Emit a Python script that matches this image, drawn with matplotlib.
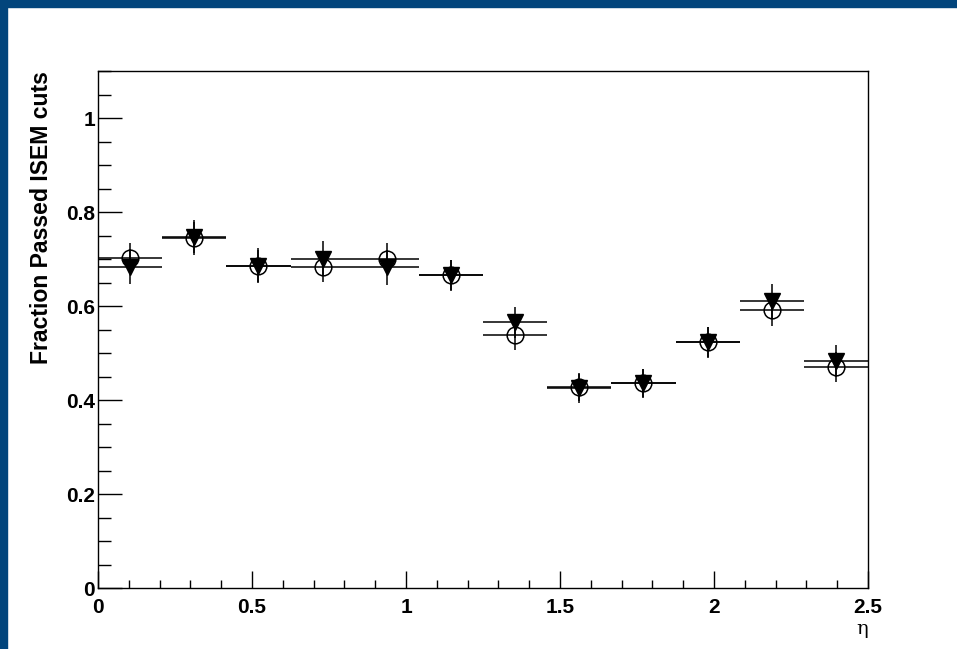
import matplotlib
matplotlib.use("Agg")
import matplotlib.pyplot as plt
import numpy as np
from matplotlib.ticker import MultipleLocator

# 12 eta bins from 0 to 2.5
edges = np.linspace(0, 2.5, 13)
centers = 0.5 * (edges[:-1] + edges[1:])
half_w = 0.5 * (edges[1:] - edges[:-1])

frac_circle = [0.703, 0.745, 0.686, 0.684, 0.701, 0.665, 0.538, 0.427, 0.436, 0.523, 0.591, 0.470]
err_circle = [0.032, 0.033, 0.034, 0.033, 0.033, 0.032, 0.031, 0.030, 0.030, 0.032, 0.033, 0.032]
frac_tri = [0.684, 0.746, 0.686, 0.701, 0.682, 0.665, 0.565, 0.425, 0.436, 0.523, 0.610, 0.482]
err_tri = [0.038, 0.037, 0.038, 0.037, 0.038, 0.033, 0.033, 0.031, 0.031, 0.033, 0.036, 0.034]

font = ['Liberation Sans', 'DejaVu Sans']

fig = plt.figure(figsize=(9.57, 6.49), dpi=100)
# dark blue frame strips (left and top)
fig.patches.append(plt.Rectangle((0, 0), 7 / 957, 1, transform=fig.transFigure,
                                 color='#02457c', zorder=0))
fig.patches.append(plt.Rectangle((0, 1 - 7 / 649), 1, 7 / 649, transform=fig.transFigure,
                                 color='#02457c', zorder=0))

ax = fig.add_axes([98 / 957, 61 / 649, 770 / 957, 517 / 649])

ax.errorbar(centers, frac_circle, xerr=half_w, yerr=err_circle, fmt='o', ms=12,
            mfc='none', mec='black', mew=1.1, ecolor='black', elinewidth=1.1,
            capsize=0, zorder=3)
ax.errorbar(centers, frac_tri, xerr=half_w, yerr=err_tri, fmt='v', ms=12,
            mfc='black', mec='black', ecolor='black', elinewidth=1.1,
            capsize=0, zorder=4)

ax.set_xlim(0, 2.5)
ax.set_ylim(0, 1.1)
ax.xaxis.set_major_locator(MultipleLocator(0.5))
ax.xaxis.set_minor_locator(MultipleLocator(0.1))
ax.yaxis.set_major_locator(MultipleLocator(0.2))
ax.yaxis.set_minor_locator(MultipleLocator(0.05))
ax.tick_params(axis='both', which='both', direction='in', top=False, right=False,
               width=1, color='black')
ax.tick_params(axis='x', which='major', length=12, pad=7)
ax.tick_params(axis='x', which='minor', length=6)
ax.tick_params(axis='y', which='major', length=17, pad=2)
ax.tick_params(axis='y', which='minor', length=9)
ax.set_xticks([0, 0.5, 1, 1.5, 2, 2.5])
ax.set_xticklabels(['0', '0.5', '1', '1.5', '2', '2.5'])
ax.set_yticks([0, 0.2, 0.4, 0.6, 0.8, 1.0])
ax.set_yticklabels(['0', '0.2', '0.4', '0.6', '0.8', '1'])
for lab in ax.get_xticklabels() + ax.get_yticklabels():
    lab.set_family(font)
    lab.set_fontweight('bold')
    lab.set_fontsize(15)
for sp in ax.spines.values():
    sp.set_linewidth(1)

ax.set_ylabel('Fraction Passed ISEM cuts', family=font, fontweight='bold', fontsize=16.6,
              loc='top')
ax.yaxis.set_label_coords(-0.058, 1.0)
ax.text(1.0, -0.08, '\u03b7', transform=ax.transAxes, ha='right', va='center',
        family=['DejaVu Serif'], fontsize=14)

fig.savefig('out.png', dpi=100)
